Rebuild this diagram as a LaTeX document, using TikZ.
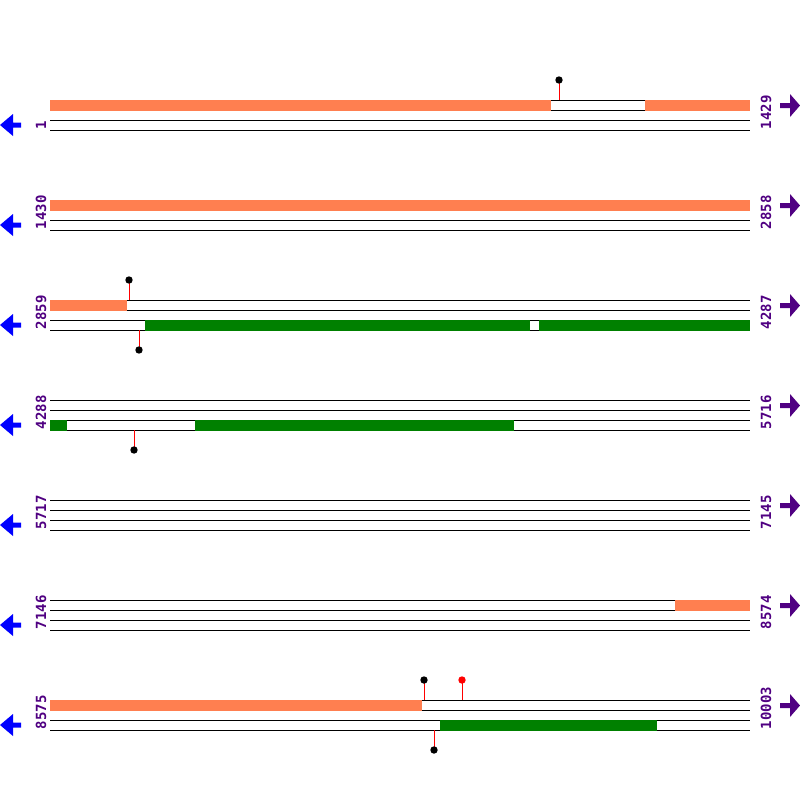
\documentclass[tikz,border=0pt]{standalone}
\usepackage{fontspec}
\newfontfamily\poslabelfont{DejaVu Sans Mono}
\definecolor{cdscol}{RGB}{255,127,80}
\definecolor{orfcol}{RGB}{0,128,0}
\definecolor{poscol}{RGB}{80,0,130}
\begin{document}
\begin{tikzpicture}[x=0.75pt,y=-0.75pt,
        track/.style = {black,line width=0.75pt},
        stick/.style = {red,line width=0.75pt},
        poslabel/.style = {poscol,rotate=90,anchor=base west,inner sep=0pt,
                           font=\poslabelfont\bfseries\fontsize{10.5}{12}\selectfont}]
    \fill[white] (0,0) rectangle (800,800);
    \useasboundingbox (0,0) rectangle (800,800);

    % rows: four strand lines, end positions, direction arrows
    \foreach \y/\lo/\hi in {100/1/1429, 200/1430/2858, 300/2859/4287,
                            400/4288/5716, 500/5717/7145, 600/7146/8574,
                            700/8575/10003}{
        \foreach \d in {0,10,20,30}
            \draw[track] (50,\y+\d) -- (750,\y+\d);
        \node[poslabel] (lo\y) at (46,\y+29.5) {\lo};
        \node[poslabel] (hi\y) at (771,\y+29.5) {\hi};
        \fill[blue] (0,\y+25) -- (13,\y+14) -- (13,\y+22.5) -- (21,\y+22.5)
            -- (21,\y+27.5) -- (13,\y+27.5) -- (13,\y+36) -- cycle;
        \fill[poscol] (800,\y+5.5) -- (790,\y-6) -- (790,\y+3) -- (780,\y+3)
            -- (780,\y+8) -- (790,\y+8) -- (790,\y+17) -- cycle;
    }

    % top strand features
    \fill[cdscol] (50,99.5) rectangle (551,110.5);
    \fill[cdscol] (645,99.5) rectangle (750,110.5);
    \fill[cdscol] (50,199.5) rectangle (750,210.5);
    \fill[cdscol] (50,299.5) rectangle (127,310.5);
    \fill[cdscol] (675,599.5) rectangle (750,610.5);
    \fill[cdscol] (50,699.5) rectangle (422,710.5);

    % bottom strand features
    \fill[orfcol] (145,319.5) rectangle (530,330.5);
    \fill[orfcol] (539,319.5) rectangle (750,330.5);
    \fill[orfcol] (50,419.5) rectangle (67,430.5);
    \fill[orfcol] (195,419.5) rectangle (514,430.5);
    \fill[orfcol] (440,719.5) rectangle (657,730.5);

    % sites
    \foreach \x/\ya/\yb/\c in {559/100/80/black, 129/300/280/black,
                               139/330/350/black, 134/430/450/black,
                               424/700/680/black, 462/700/680/red,
                               434/730/750/black}{
        \draw[stick] (\x,\ya) -- (\x,\yb);
        \fill[\c] (\x,\yb) circle (3.7);
    }
\end{tikzpicture}
\end{document}
